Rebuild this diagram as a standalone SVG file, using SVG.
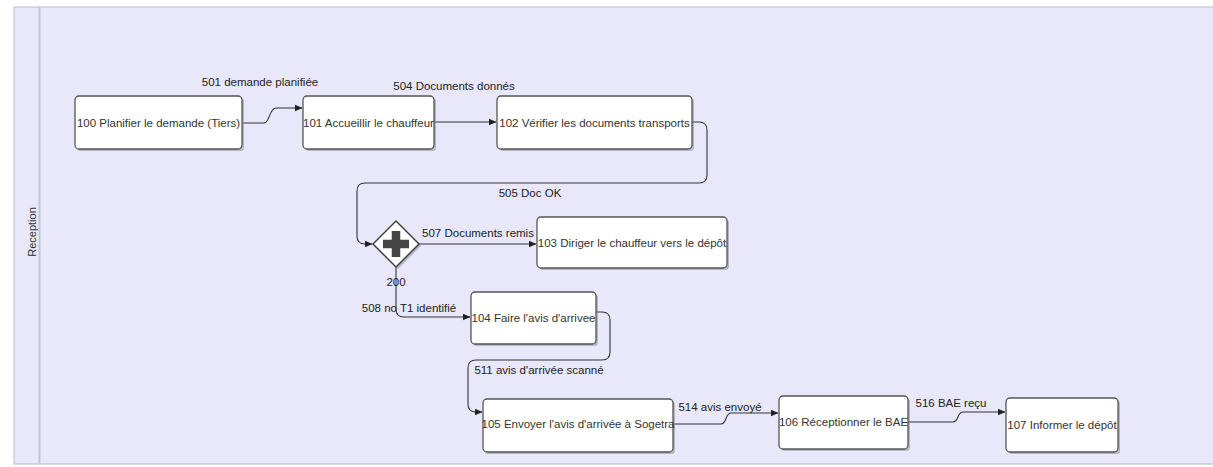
<svg xmlns="http://www.w3.org/2000/svg" width="1213" height="467" viewBox="0 0 1213 467">
<defs>
<marker id="arr" markerWidth="8" markerHeight="8" refX="7" refY="4" orient="auto" markerUnits="userSpaceOnUse">
<path d="M0,0.8 L7.5,4 L0,7.2 Z" fill="#222"/>
</marker>
</defs>
<style>
.task{fill:#ffffff;stroke:#555;stroke-width:1.3}
.shadow{fill:#8a8a96;opacity:0.55}
.tt{font-family:"Liberation Sans",Arial,sans-serif;font-size:11.5px;fill:#333;text-anchor:middle}
.lbl{font-family:"Liberation Sans",Arial,sans-serif;font-size:11.5px;fill:#222;text-anchor:middle}
.conn{fill:none;stroke:#333;stroke-width:1.1}
</style>
<rect x="0" y="0" width="1213" height="467" fill="#ffffff"/>
<g id="pool">
<rect x="14" y="7" width="1205" height="457" fill="#E8E8FA" stroke="#C4C4D2" stroke-width="1.2"/>
<line x1="39.5" y1="7" x2="39.5" y2="464" stroke="#C4C4D2" stroke-width="2"/>
<text class="lbl" transform="translate(36,232) rotate(-90)" style="font-size:11px;fill:#333">Reception</text>
</g>
<g id="connectors">
<path class="conn" d="M242,123 H264 C270,123 269,108 276,108 H302" marker-end="url(#arr)"/>
<path class="conn" d="M434,122 H496" marker-end="url(#arr)"/>
<path class="conn" d="M692,122 H699 Q707,122 707,130 V175 Q707,183 699,183 H365 Q357,183 357,191 V236 Q357,244 365,244 H372" marker-end="url(#arr)"/>
<path class="conn" d="M419,244 H536" marker-end="url(#arr)"/>
<path class="conn" d="M396,267 V309 Q396,317 404,317 H470" marker-end="url(#arr)"/>
<path class="conn" d="M596,312 H602 Q610,312 610,320 V352 Q610,360 602,360 H476 Q468,360 468,368 V404 Q468,412 476,412 H482" marker-end="url(#arr)"/>
<path class="conn" d="M673,424 H721 C727,424 725,413 731,413 H778" marker-end="url(#arr)"/>
<path class="conn" d="M908,422 H953 C959,422 957,412 963,412 H1005" marker-end="url(#arr)"/>
<text class="lbl" x="260" y="86">501 demande planifiée</text>
<text class="lbl" x="454" y="90">504 Documents donnés</text>
<text class="lbl" x="530" y="197">505 Doc OK</text>
<text class="lbl" x="478" y="237">507 Documents remis</text>
<text class="lbl" x="409" y="312">508 no T1 identifié</text>
<text class="lbl" x="539" y="374">511 avis d'arrivée scanné</text>
<text class="lbl" x="720" y="411">514 avis envoyé</text>
<text class="lbl" x="951" y="407">516 BAE reçu</text>
</g>
<g id="n100">
<rect class="shadow" x="77" y="98" width="167" height="53" rx="4"/>
<rect class="task" x="75" y="96" width="167" height="53" rx="4"/>
<text class="tt" x="158.5" y="127">100 Planifier le demande (Tiers)</text>
</g>
<g id="n101">
<rect class="shadow" x="305" y="98" width="131" height="53" rx="4"/>
<rect class="task" x="303" y="96" width="131" height="53" rx="4"/>
<text class="tt" x="368.5" y="127">101 Accueillir le chauffeur</text>
</g>
<g id="n102">
<rect class="shadow" x="499" y="98" width="195" height="53" rx="4"/>
<rect class="task" x="497" y="96" width="195" height="53" rx="4"/>
<text class="tt" x="594.5" y="127">102 Vérifier les documents transports</text>
</g>
<g id="n200">
<path class="shadow" d="M398,223 L421,246 L398,269 L375,246 Z"/>
<path d="M396,221 L419,244 L396,267 L373,244 Z" fill="#fff" stroke="#444" stroke-width="1.5"/>
<path d="M396,231 V257 M383,244 H409" stroke="#444" stroke-width="8.5" fill="none"/>
<text class="lbl" x="396" y="286">200</text>
</g>
<g id="n103">
<rect class="shadow" x="539" y="219" width="190" height="51" rx="4"/>
<rect class="task" x="537" y="217" width="190" height="51" rx="4"/>
<text class="tt" x="632" y="247">103 Diriger le chauffeur vers le dépôt</text>
</g>
<g id="n104">
<rect class="shadow" x="473" y="294" width="125" height="52" rx="4"/>
<rect class="task" x="471" y="292" width="125" height="52" rx="4"/>
<text class="tt" x="533.5" y="322">104 Faire l'avis d'arrivee</text>
</g>
<g id="n105">
<rect class="shadow" x="485" y="401" width="190" height="53" rx="4"/>
<rect class="task" x="483" y="399" width="190" height="53" rx="4"/>
<text class="tt" x="578" y="428">105 Envoyer l'avis d'arrivée à Sogetra</text>
</g>
<g id="n106">
<rect class="shadow" x="781" y="398" width="129" height="53" rx="4"/>
<rect class="task" x="779" y="396" width="129" height="53" rx="4"/>
<text class="tt" x="843.5" y="426">106 Réceptionner le BAE</text>
</g>
<g id="n107">
<rect class="shadow" x="1008" y="400" width="112" height="54" rx="4"/>
<rect class="task" x="1006" y="398" width="112" height="54" rx="4"/>
<text class="tt" x="1062" y="429">107 Informer le dépôt</text>
</g>
</svg>
